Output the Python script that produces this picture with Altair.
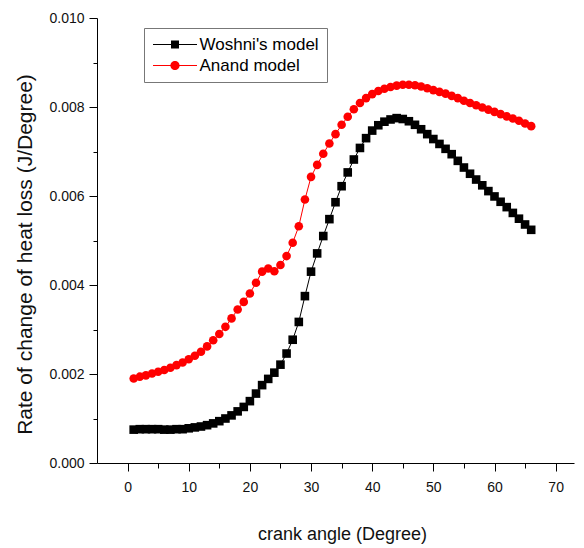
import altair as alt
import pandas as pd

# ---------------- data ----------------
angles = list(range(1, 67))

woshni = [
    0.00075, 0.00076, 0.00076, 0.00076, 0.00076, 0.00075, 0.00075, 0.00076, 0.00076, 0.00078,
    0.00080, 0.00082, 0.00085, 0.00089, 0.00094, 0.00100, 0.00107, 0.00116, 0.00126, 0.00139,
    0.00156, 0.00175, 0.00189, 0.00203, 0.00221, 0.00246, 0.00277, 0.00317, 0.00375, 0.00430,
    0.00471, 0.00510, 0.00548, 0.00586, 0.00622, 0.00653, 0.00682, 0.00708, 0.00730, 0.00747,
    0.00759, 0.00767, 0.00772, 0.00775, 0.00773, 0.00768, 0.00760, 0.00750, 0.00739, 0.00728,
    0.00717, 0.00706, 0.00694, 0.00679, 0.00664, 0.00650, 0.00637, 0.00624, 0.00611, 0.00599,
    0.00587, 0.00575, 0.00562, 0.00549, 0.00536, 0.00524,
]

anand = [
    0.00190, 0.00194, 0.00197, 0.00201, 0.00205, 0.00209, 0.00214, 0.00220, 0.00226, 0.00233,
    0.00241, 0.00250, 0.00262, 0.00276, 0.00290, 0.00306, 0.00325, 0.00345, 0.00362, 0.00381,
    0.00405, 0.00430, 0.00437, 0.00431, 0.00445, 0.00465, 0.00495, 0.00532, 0.00592, 0.00643,
    0.00670, 0.00695, 0.00718, 0.00739, 0.00760, 0.00778, 0.00795, 0.00809, 0.00820, 0.00829,
    0.00836, 0.00841, 0.00845, 0.00848, 0.00850, 0.00850, 0.00849, 0.00846, 0.00842, 0.00838,
    0.00834, 0.00830, 0.00825, 0.00820, 0.00814, 0.00809, 0.00804, 0.00799, 0.00794, 0.00789,
    0.00784, 0.00779, 0.00774, 0.00769, 0.00763, 0.00757,
]

series_names = ["Woshni's model", "Anand model"]
series_colors = ["#000000", "#ff0000"]
marker_keys = ["sq", "ci"]
series_shapes = ["square", "circle"]

x_major = [0, 10, 20, 30, 40, 50, 60, 70]
x_minor = [5, 15, 25, 35, 45, 55, 65]
y_major = [0.0, 0.002, 0.004, 0.006, 0.008, 0.010]
y_minor = [0.001, 0.003, 0.005, 0.007, 0.009]

df = pd.DataFrame({
    "angle": angles + angles,
    "value": woshni + anand,
    "series": [series_names[0]] * len(angles) + [series_names[1]] * len(angles),
    "marker": [marker_keys[0]] * len(angles) + [marker_keys[1]] * len(angles),
})

# legend symbols: a short line with the marker in its middle (unit = 8.5 px)
LINE = "M-2.588,-0.059H2.588V0.059H-2.588Z"
SQ_SYMBOL = LINE + "M-0.47,-0.47H0.47V0.47H-0.47Z"
CI_SYMBOL = LINE + "M-0.54,0A0.54,0.54 0 1,1 0.54,0A0.54,0.54 0 1,1 -0.54,0Z"
symbol_expr = "datum.value === 'Anand model' ? '" + CI_SYMBOL + "' : '" + SQ_SYMBOL + "'"

x_scale = alt.Scale(domain=[-5, 73], nice=False, zero=False)
y_scale = alt.Scale(domain=[0, 0.010], nice=False)
color_scale = alt.Scale(domain=series_names, range=series_colors)
shape_scale = alt.Scale(domain=marker_keys, range=series_shapes)

legend = alt.Legend(
    title=None, orient="none", legendX=47, legendY=10, direction="vertical",
    labelFont="Liberation Sans", labelFontSize=17, labelColor="#000000",
    labelOffset=16, labelLimit=400, symbolSize=289, symbolStrokeWidth=0,
    symbolOffset=14.5, symbolOpacity=1, padding=8, rowPadding=3,
    strokeColor="#777777", fillColor="#ffffff",
    symbolType={"expr": symbol_expr},
)

base = alt.Chart(df)

points = base.mark_point(filled=True, size=74, opacity=1, strokeWidth=0).encode(
    x=alt.X("angle:Q", scale=x_scale, title="crank angle (Degree)",
            axis=alt.Axis(values=x_major, orient="bottom", tickSize=8, labelPadding=9,
                          labelFontSize=14, titleFontSize=18, titlePadding=31,
                          titleX=245, labelFlush=False, format="d")),
    y=alt.Y("value:Q", scale=y_scale, title="Rate of change of heat loss (J/Degree)",
            axis=alt.Axis(values=y_major, orient="left", format=".3f", tickSize=8,
                          labelPadding=5, labelFontSize=14, titleFontSize=21,
                          titlePadding=13, titleY=236, labelFlush=False)),
    color=alt.Color("series:N", scale=color_scale, legend=legend),
    shape=alt.Shape("marker:N", scale=shape_scale, legend=None),
)

lines = base.mark_line(strokeWidth=1).encode(
    x=alt.X("angle:Q", scale=x_scale, title=None,
            axis=alt.Axis(values=x_minor, orient="bottom", tickSize=5,
                          labels=False, domain=False)),
    y=alt.Y("value:Q", scale=y_scale, title=None,
            axis=alt.Axis(values=y_minor, orient="left", tickSize=4,
                          labels=False, domain=False)),
    color=alt.Color("series:N", scale=color_scale, legend=legend),
)

chart = (
    alt.layer(points, lines)
    .resolve_axis(x="independent", y="independent")
    .properties(
        width=477, height=445,
        padding={"left": 89, "top": 10, "right": 2, "bottom": 83},
        autosize=alt.AutoSizeParams(type="none"),
    )
    .configure_view(stroke=None)
    .configure_axis(
        domainColor="#000000", tickColor="#000000", labelColor="#111111",
        titleColor="#111111", labelFont="Liberation Sans", titleFont="Liberation Sans",
        titleFontWeight="normal", grid=False, domainWidth=1, tickWidth=1,
    )
)

chart.save("out.html", embed_options={"renderer": "svg", "actions": False})
